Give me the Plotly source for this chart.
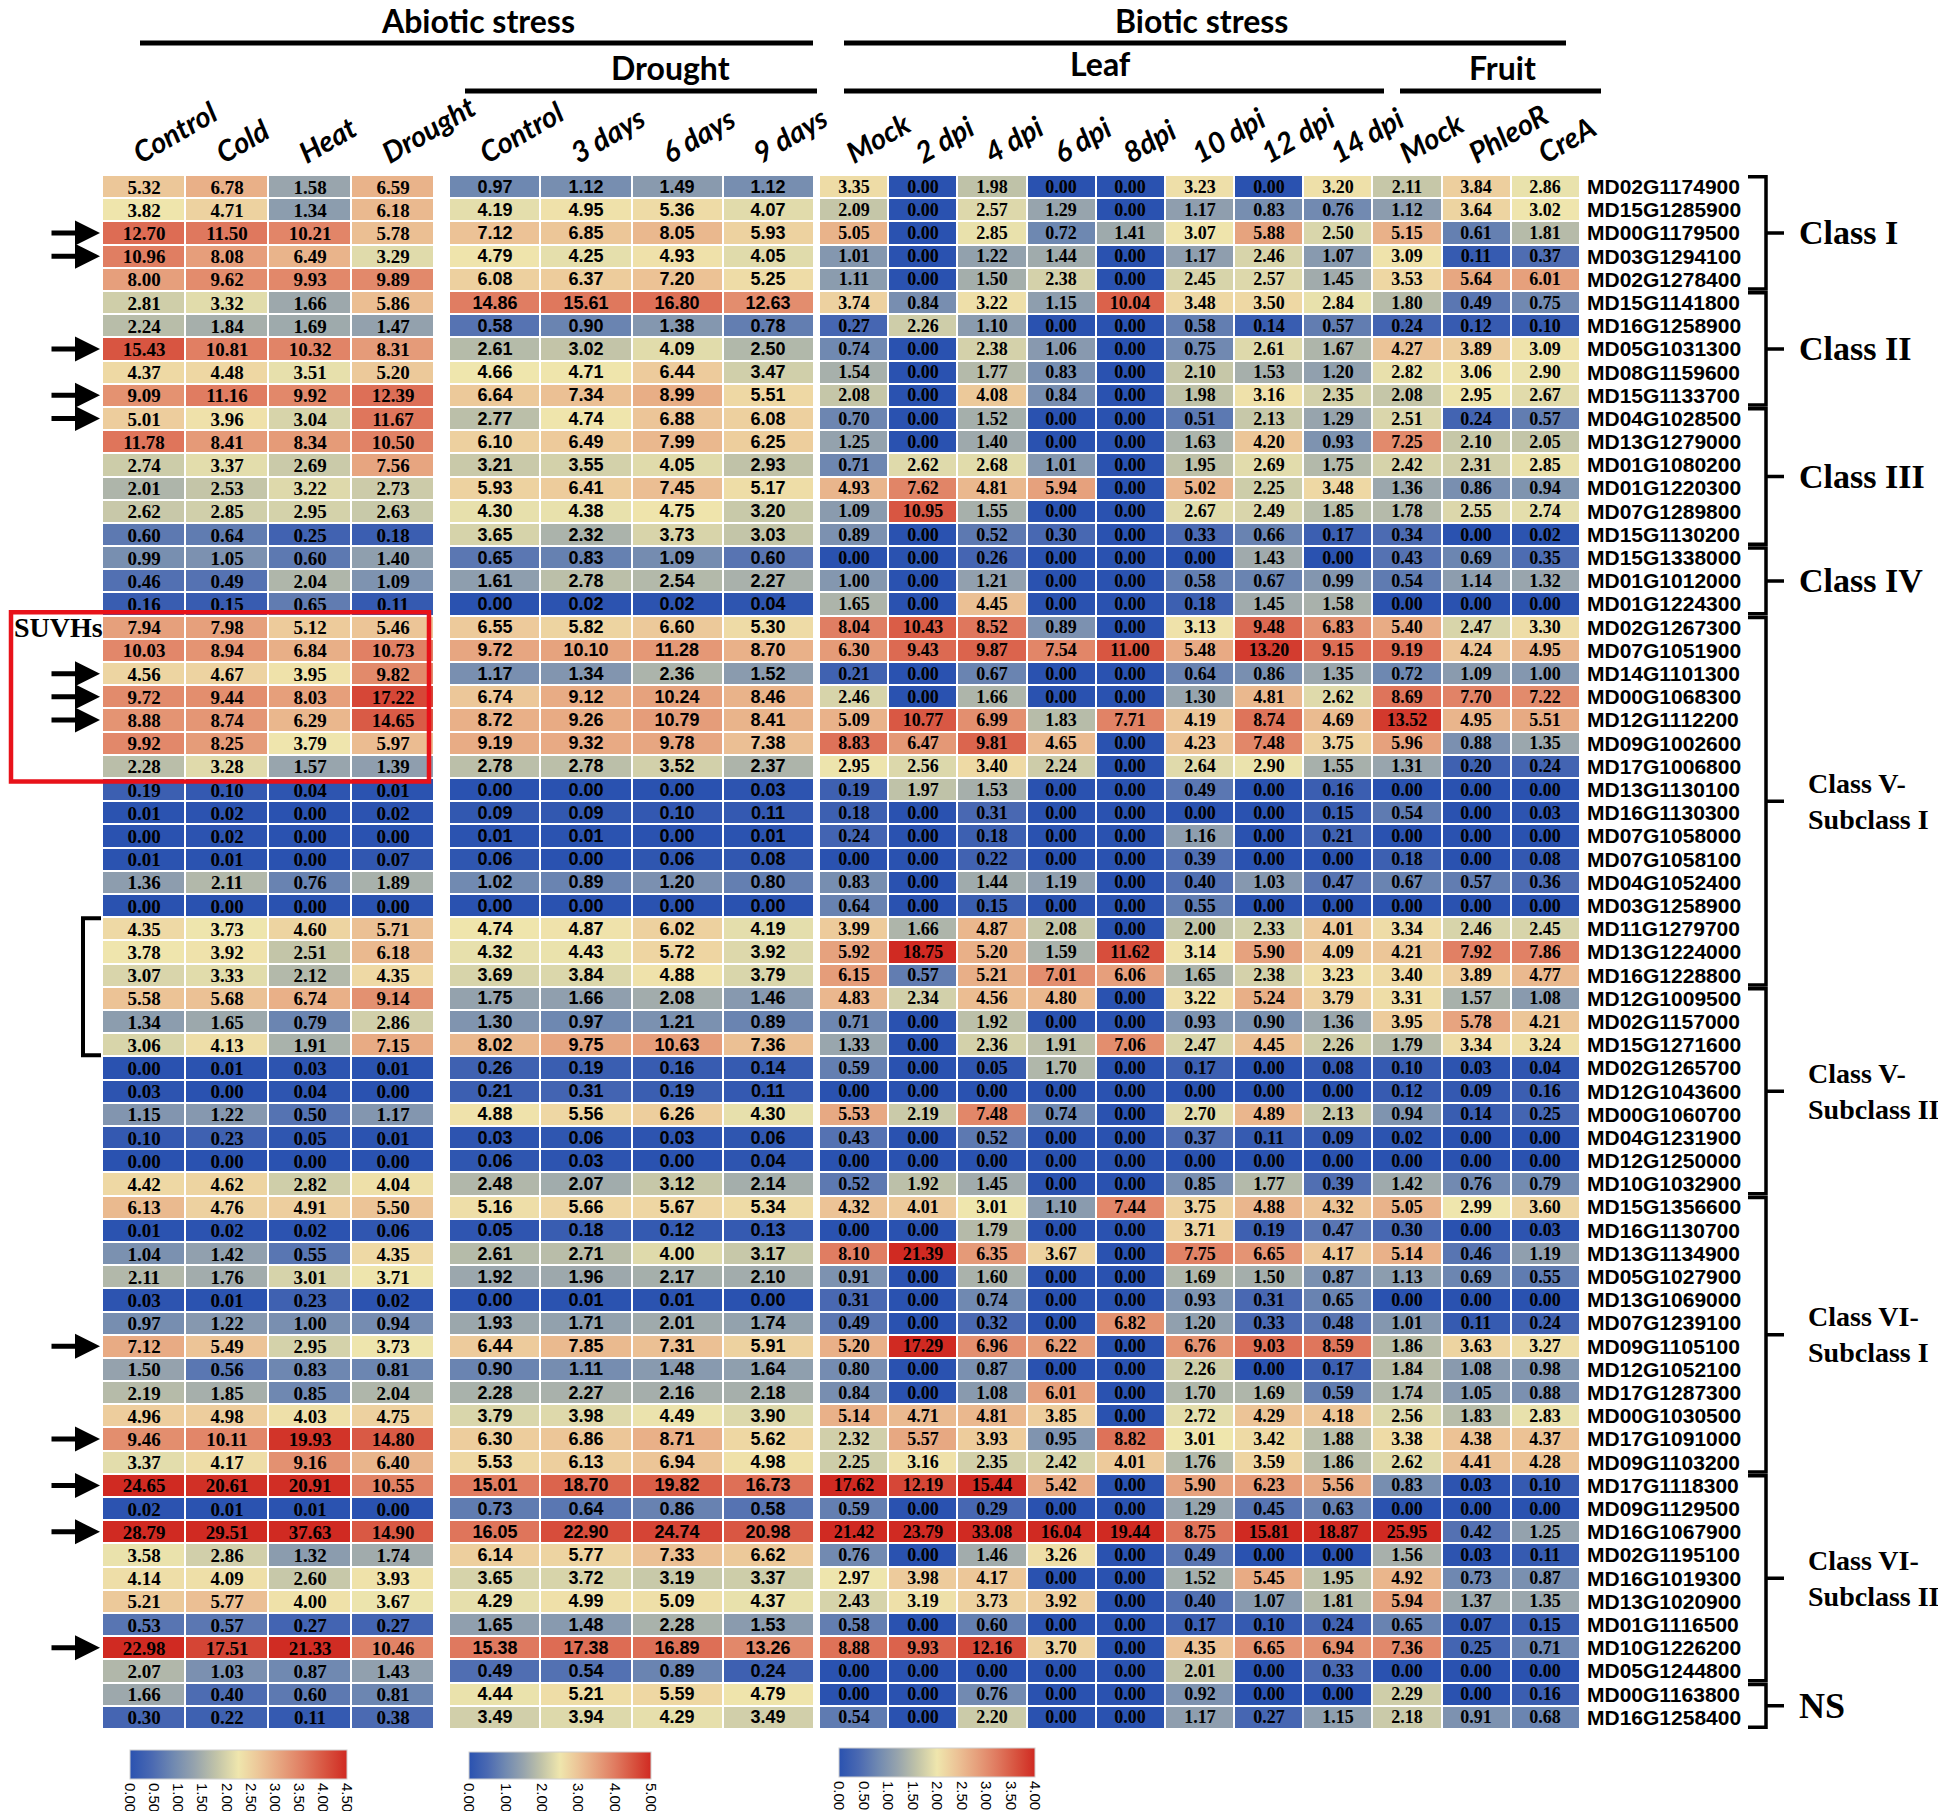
import numpy as np
import plotly.graph_objects as go

genes = ["MD02G1174900", "MD15G1285900", "MD00G1179500", "MD03G1294100", "MD02G1278400",
         "MD15G1141800", "MD16G1258900", "MD05G1031300", "MD08G1159600", "MD15G1133700",
         "MD04G1028500", "MD13G1279000", "MD01G1080200", "MD01G1220300", "MD07G1289800",
         "MD15G1130200", "MD15G1338000", "MD01G1012000", "MD01G1224300", "MD02G1267300",
         "MD07G1051900", "MD14G1101300", "MD00G1068300", "MD12G1112200", "MD09G1002600",
         "MD17G1006800", "MD13G1130100", "MD16G1130300", "MD07G1058000", "MD07G1058100",
         "MD04G1052400", "MD03G1258900", "MD11G1279700", "MD13G1224000", "MD16G1228800",
         "MD12G1009500", "MD02G1157000", "MD15G1271600", "MD02G1265700", "MD12G1043600",
         "MD00G1060700", "MD04G1231900", "MD12G1250000", "MD10G1032900", "MD15G1356600",
         "MD16G1130700", "MD13G1134900", "MD05G1027900", "MD13G1069000", "MD07G1239100",
         "MD09G1105100", "MD12G1052100", "MD17G1287300", "MD00G1030500", "MD17G1091000",
         "MD09G1103200", "MD17G1118300", "MD09G1129500", "MD16G1067900", "MD02G1195100",
         "MD16G1019300", "MD13G1020900", "MD01G1116500", "MD10G1226200", "MD05G1244800",
         "MD00G1163800", "MD16G1258400"]

abiotic_cols = ["Control", "Cold", "Heat", "Drought"]
drought_cols = ["Control", "3 days", "6 days", "9 days"]
biotic_cols = ["Mock", "2 dpi", "4 dpi", "6 dpi", "8dpi", "10 dpi", "12 dpi", "14 dpi",
               "Mock", "PhleoR", "CreA"]

abiotic = [
    [5.32, 6.78, 1.58, 6.59], [3.82, 4.71, 1.34, 6.18], [12.70, 11.50, 10.21, 5.78],
    [10.96, 8.08, 6.49, 3.29], [8.00, 9.62, 9.93, 9.89], [2.81, 3.32, 1.66, 5.86],
    [2.24, 1.84, 1.69, 1.47], [15.43, 10.81, 10.32, 8.31], [4.37, 4.48, 3.51, 5.20],
    [9.09, 11.16, 9.92, 12.39], [5.01, 3.96, 3.04, 11.67], [11.78, 8.41, 8.34, 10.50],
    [2.74, 3.37, 2.69, 7.56], [2.01, 2.53, 3.22, 2.73], [2.62, 2.85, 2.95, 2.63],
    [0.60, 0.64, 0.25, 0.18], [0.99, 1.05, 0.60, 1.40], [0.46, 0.49, 2.04, 1.09],
    [0.16, 0.15, 0.65, 0.11], [7.94, 7.98, 5.12, 5.46], [10.03, 8.94, 6.84, 10.73],
    [4.56, 4.67, 3.95, 9.82], [9.72, 9.44, 8.03, 17.22], [8.88, 8.74, 6.29, 14.65],
    [9.92, 8.25, 3.79, 5.97], [2.28, 3.28, 1.57, 1.39], [0.19, 0.10, 0.04, 0.01],
    [0.01, 0.02, 0.00, 0.02], [0.00, 0.02, 0.00, 0.00], [0.01, 0.01, 0.00, 0.07],
    [1.36, 2.11, 0.76, 1.89], [0.00, 0.00, 0.00, 0.00], [4.35, 3.73, 4.60, 5.71],
    [3.78, 3.92, 2.51, 6.18], [3.07, 3.33, 2.12, 4.35], [5.58, 5.68, 6.74, 9.14],
    [1.34, 1.65, 0.79, 2.86], [3.06, 4.13, 1.91, 7.15], [0.00, 0.01, 0.03, 0.01],
    [0.03, 0.00, 0.04, 0.00], [1.15, 1.22, 0.50, 1.17], [0.10, 0.23, 0.05, 0.01],
    [0.00, 0.00, 0.00, 0.00], [4.42, 4.62, 2.82, 4.04], [6.13, 4.76, 4.91, 5.50],
    [0.01, 0.02, 0.02, 0.06], [1.04, 1.42, 0.55, 4.35], [2.11, 1.76, 3.01, 3.71],
    [0.03, 0.01, 0.23, 0.02], [0.97, 1.22, 1.00, 0.94], [7.12, 5.49, 2.95, 3.73],
    [1.50, 0.56, 0.83, 0.81], [2.19, 1.85, 0.85, 2.04], [4.96, 4.98, 4.03, 4.75],
    [9.46, 10.11, 19.93, 14.80], [3.37, 4.17, 9.16, 6.40], [24.65, 20.61, 20.91, 10.55],
    [0.02, 0.01, 0.01, 0.00], [28.79, 29.51, 37.63, 14.90], [3.58, 2.86, 1.32, 1.74],
    [4.14, 4.09, 2.60, 3.93], [5.21, 5.77, 4.00, 3.67], [0.53, 0.57, 0.27, 0.27],
    [22.98, 17.51, 21.33, 10.46], [2.07, 1.03, 0.87, 1.43], [1.66, 0.40, 0.60, 0.81],
    [0.30, 0.22, 0.11, 0.38]]

drought = [
    [0.97, 1.12, 1.49, 1.12], [4.19, 4.95, 5.36, 4.07], [7.12, 6.85, 8.05, 5.93],
    [4.79, 4.25, 4.93, 4.05], [6.08, 6.37, 7.20, 5.25], [14.86, 15.61, 16.80, 12.63],
    [0.58, 0.90, 1.38, 0.78], [2.61, 3.02, 4.09, 2.50], [4.66, 4.71, 6.44, 3.47],
    [6.64, 7.34, 8.99, 5.51], [2.77, 4.74, 6.88, 6.08], [6.10, 6.49, 7.99, 6.25],
    [3.21, 3.55, 4.05, 2.93], [5.93, 6.41, 7.45, 5.17], [4.30, 4.38, 4.75, 3.20],
    [3.65, 2.32, 3.73, 3.03], [0.65, 0.83, 1.09, 0.60], [1.61, 2.78, 2.54, 2.27],
    [0.00, 0.02, 0.02, 0.04], [6.55, 5.82, 6.60, 5.30], [9.72, 10.10, 11.28, 8.70],
    [1.17, 1.34, 2.36, 1.52], [6.74, 9.12, 10.24, 8.46], [8.72, 9.26, 10.79, 8.41],
    [9.19, 9.32, 9.78, 7.38], [2.78, 2.78, 3.52, 2.37], [0.00, 0.00, 0.00, 0.03],
    [0.09, 0.09, 0.10, 0.11], [0.01, 0.01, 0.00, 0.01], [0.06, 0.00, 0.06, 0.08],
    [1.02, 0.89, 1.20, 0.80], [0.00, 0.00, 0.00, 0.00], [4.74, 4.87, 6.02, 4.19],
    [4.32, 4.43, 5.72, 3.92], [3.69, 3.84, 4.88, 3.79], [1.75, 1.66, 2.08, 1.46],
    [1.30, 0.97, 1.21, 0.89], [8.02, 9.75, 10.63, 7.36], [0.26, 0.19, 0.16, 0.14],
    [0.21, 0.31, 0.19, 0.11], [4.88, 5.56, 6.26, 4.30], [0.03, 0.06, 0.03, 0.06],
    [0.06, 0.03, 0.00, 0.04], [2.48, 2.07, 3.12, 2.14], [5.16, 5.66, 5.67, 5.34],
    [0.05, 0.18, 0.12, 0.13], [2.61, 2.71, 4.00, 3.17], [1.92, 1.96, 2.17, 2.10],
    [0.00, 0.01, 0.01, 0.00], [1.93, 1.71, 2.01, 1.74], [6.44, 7.85, 7.31, 5.91],
    [0.90, 1.11, 1.48, 1.64], [2.28, 2.27, 2.16, 2.18], [3.79, 3.98, 4.49, 3.90],
    [6.30, 6.86, 8.71, 5.62], [5.53, 6.13, 6.94, 4.98], [15.01, 18.70, 19.82, 16.73],
    [0.73, 0.64, 0.86, 0.58], [16.05, 22.90, 24.74, 20.98], [6.14, 5.77, 7.33, 6.62],
    [3.65, 3.72, 3.19, 3.37], [4.29, 4.99, 5.09, 4.37], [1.65, 1.48, 2.28, 1.53],
    [15.38, 17.38, 16.89, 13.26], [0.49, 0.54, 0.89, 0.24], [4.44, 5.21, 5.59, 4.79],
    [3.49, 3.94, 4.29, 3.49]]

biotic = [
    [3.35, 0.00, 1.98, 0.00, 0.00, 3.23, 0.00, 3.20, 2.11, 3.84, 2.86],
    [2.09, 0.00, 2.57, 1.29, 0.00, 1.17, 0.83, 0.76, 1.12, 3.64, 3.02],
    [5.05, 0.00, 2.85, 0.72, 1.41, 3.07, 5.88, 2.50, 5.15, 0.61, 1.81],
    [1.01, 0.00, 1.22, 1.44, 0.00, 1.17, 2.46, 1.07, 3.09, 0.11, 0.37],
    [1.11, 0.00, 1.50, 2.38, 0.00, 2.45, 2.57, 1.45, 3.53, 5.64, 6.01],
    [3.74, 0.84, 3.22, 1.15, 10.04, 3.48, 3.50, 2.84, 1.80, 0.49, 0.75],
    [0.27, 2.26, 1.10, 0.00, 0.00, 0.58, 0.14, 0.57, 0.24, 0.12, 0.10],
    [0.74, 0.00, 2.38, 1.06, 0.00, 0.75, 2.61, 1.67, 4.27, 3.89, 3.09],
    [1.54, 0.00, 1.77, 0.83, 0.00, 2.10, 1.53, 1.20, 2.82, 3.06, 2.90],
    [2.08, 0.00, 4.08, 0.84, 0.00, 1.98, 3.16, 2.35, 2.08, 2.95, 2.67],
    [0.70, 0.00, 1.52, 0.00, 0.00, 0.51, 2.13, 1.29, 2.51, 0.24, 0.57],
    [1.25, 0.00, 1.40, 0.00, 0.00, 1.63, 4.20, 0.93, 7.25, 2.10, 2.05],
    [0.71, 2.62, 2.68, 1.01, 0.00, 1.95, 2.69, 1.75, 2.42, 2.31, 2.85],
    [4.93, 7.62, 4.81, 5.94, 0.00, 5.02, 2.25, 3.48, 1.36, 0.86, 0.94],
    [1.09, 10.95, 1.55, 0.00, 0.00, 2.67, 2.49, 1.85, 1.78, 2.55, 2.74],
    [0.89, 0.00, 0.52, 0.30, 0.00, 0.33, 0.66, 0.17, 0.34, 0.00, 0.02],
    [0.00, 0.00, 0.26, 0.00, 0.00, 0.00, 1.43, 0.00, 0.43, 0.69, 0.35],
    [1.00, 0.00, 1.21, 0.00, 0.00, 0.58, 0.67, 0.99, 0.54, 1.14, 1.32],
    [1.65, 0.00, 4.45, 0.00, 0.00, 0.18, 1.45, 1.58, 0.00, 0.00, 0.00],
    [8.04, 10.43, 8.52, 0.89, 0.00, 3.13, 9.48, 6.83, 5.40, 2.47, 3.30],
    [6.30, 9.43, 9.87, 7.54, 11.00, 5.48, 13.20, 9.15, 9.19, 4.24, 4.95],
    [0.21, 0.00, 0.67, 0.00, 0.00, 0.64, 0.86, 1.35, 0.72, 1.09, 1.00],
    [2.46, 0.00, 1.66, 0.00, 0.00, 1.30, 4.81, 2.62, 8.69, 7.70, 7.22],
    [5.09, 10.77, 6.99, 1.83, 7.71, 4.19, 8.74, 4.69, 13.52, 4.95, 5.51],
    [8.83, 6.47, 9.81, 4.65, 0.00, 4.23, 7.48, 3.75, 5.96, 0.88, 1.35],
    [2.95, 2.56, 3.40, 2.24, 0.00, 2.64, 2.90, 1.55, 1.31, 0.20, 0.24],
    [0.19, 1.97, 1.53, 0.00, 0.00, 0.49, 0.00, 0.16, 0.00, 0.00, 0.00],
    [0.18, 0.00, 0.31, 0.00, 0.00, 0.00, 0.00, 0.15, 0.54, 0.00, 0.03],
    [0.24, 0.00, 0.18, 0.00, 0.00, 1.16, 0.00, 0.21, 0.00, 0.00, 0.00],
    [0.00, 0.00, 0.22, 0.00, 0.00, 0.39, 0.00, 0.00, 0.18, 0.00, 0.08],
    [0.83, 0.00, 1.44, 1.19, 0.00, 0.40, 1.03, 0.47, 0.67, 0.57, 0.36],
    [0.64, 0.00, 0.15, 0.00, 0.00, 0.55, 0.00, 0.00, 0.00, 0.00, 0.00],
    [3.99, 1.66, 4.87, 2.08, 0.00, 2.00, 2.33, 4.01, 3.34, 2.46, 2.45],
    [5.92, 18.75, 5.20, 1.59, 11.62, 3.14, 5.90, 4.09, 4.21, 7.92, 7.86],
    [6.15, 0.57, 5.21, 7.01, 6.06, 1.65, 2.38, 3.23, 3.40, 3.89, 4.77],
    [4.83, 2.34, 4.56, 4.80, 0.00, 3.22, 5.24, 3.79, 3.31, 1.57, 1.08],
    [0.71, 0.00, 1.92, 0.00, 0.00, 0.93, 0.90, 1.36, 3.95, 5.78, 4.21],
    [1.33, 0.00, 2.36, 1.91, 7.06, 2.47, 4.45, 2.26, 1.79, 3.34, 3.24],
    [0.59, 0.00, 0.05, 1.70, 0.00, 0.17, 0.00, 0.08, 0.10, 0.03, 0.04],
    [0.00, 0.00, 0.00, 0.00, 0.00, 0.00, 0.00, 0.00, 0.12, 0.09, 0.16],
    [5.53, 2.19, 7.48, 0.74, 0.00, 2.70, 4.89, 2.13, 0.94, 0.14, 0.25],
    [0.43, 0.00, 0.52, 0.00, 0.00, 0.37, 0.11, 0.09, 0.02, 0.00, 0.00],
    [0.00, 0.00, 0.00, 0.00, 0.00, 0.00, 0.00, 0.00, 0.00, 0.00, 0.00],
    [0.52, 1.92, 1.45, 0.00, 0.00, 0.85, 1.77, 0.39, 1.42, 0.76, 0.79],
    [4.32, 4.01, 3.01, 1.10, 7.44, 3.75, 4.88, 4.32, 5.05, 2.99, 3.60],
    [0.00, 0.00, 1.79, 0.00, 0.00, 3.71, 0.19, 0.47, 0.30, 0.00, 0.03],
    [8.10, 21.39, 6.35, 3.67, 0.00, 7.75, 6.65, 4.17, 5.14, 0.46, 1.19],
    [0.91, 0.00, 1.60, 0.00, 0.00, 1.69, 1.50, 0.87, 1.13, 0.69, 0.55],
    [0.31, 0.00, 0.74, 0.00, 0.00, 0.93, 0.31, 0.65, 0.00, 0.00, 0.00],
    [0.49, 0.00, 0.32, 0.00, 6.82, 1.20, 0.33, 0.48, 1.01, 0.11, 0.24],
    [5.20, 17.29, 6.96, 6.22, 0.00, 6.76, 9.03, 8.59, 1.86, 3.63, 3.27],
    [0.80, 0.00, 0.87, 0.00, 0.00, 2.26, 0.00, 0.17, 1.84, 1.08, 0.98],
    [0.84, 0.00, 1.08, 6.01, 0.00, 1.70, 1.69, 0.59, 1.74, 1.05, 0.88],
    [5.14, 4.71, 4.81, 3.85, 0.00, 2.72, 4.29, 4.18, 2.56, 1.83, 2.83],
    [2.32, 5.57, 3.93, 0.95, 8.82, 3.01, 3.42, 1.88, 3.38, 4.38, 4.37],
    [2.25, 3.16, 2.35, 2.42, 4.01, 1.76, 3.59, 1.86, 2.62, 4.41, 4.28],
    [17.62, 12.19, 15.44, 5.42, 0.00, 5.90, 6.23, 5.56, 0.83, 0.03, 0.10],
    [0.59, 0.00, 0.29, 0.00, 0.00, 1.29, 0.45, 0.63, 0.00, 0.00, 0.00],
    [21.42, 23.79, 33.08, 16.04, 19.44, 8.75, 15.81, 18.87, 25.95, 0.42, 1.25],
    [0.76, 0.00, 1.46, 3.26, 0.00, 0.49, 0.00, 0.00, 1.56, 0.03, 0.11],
    [2.97, 3.98, 4.17, 0.00, 0.00, 1.52, 5.45, 1.95, 4.92, 0.73, 0.87],
    [2.43, 3.19, 3.73, 3.92, 0.00, 0.40, 1.07, 1.81, 5.94, 1.37, 1.35],
    [0.58, 0.00, 0.60, 0.00, 0.00, 0.17, 0.10, 0.24, 0.65, 0.07, 0.15],
    [8.88, 9.93, 12.16, 3.70, 0.00, 4.35, 6.65, 6.94, 7.36, 0.25, 0.71],
    [0.00, 0.00, 0.00, 0.00, 0.00, 2.01, 0.00, 0.33, 0.00, 0.00, 0.00],
    [0.00, 0.00, 0.76, 0.00, 0.00, 0.92, 0.00, 0.00, 2.29, 0.00, 0.16],
    [0.54, 0.00, 2.20, 0.00, 0.00, 1.17, 0.27, 1.15, 2.18, 0.91, 0.68]]

classes = [("Class I", 0, 4, 34), ("Class II", 5, 9, 34), ("Class III", 10, 15, 34),
           ("Class IV", 16, 18, 34), ("Class V-<br>Subclass I", 19, 34, 28),
           ("Class V-<br>Subclass II", 35, 43, 28), ("Class VI-<br>Subclass I", 44, 55, 28),
           ("Class VI-<br>Subclass II", 56, 64, 28), ("NS", 65, 66, 36)]
arrow_rows = [2, 3, 7, 9, 10, 21, 22, 23, 50, 54, 56, 58, 63]
suvh_rows = (19, 25)
bracket_rows = (32, 37)

# page has an 8px body margin, so the figure is a bit smaller than the window
PAD = 8
W, H = 1946 - 2 * PAD, 1819 - 2 * PAD


def fx(p):
    return (p - PAD) / W


def fy(p):
    return 1 - (p - PAD) / H


colorscale = [[0.0, "#2a52b0"], [0.1, "#4a69b2"], [0.2, "#7089b1"], [0.3, "#97a4ad"],
              [0.4, "#c2c4a8"], [0.5, "#efe6ad"], [0.6, "#ecc497"], [0.7, "#e6a17d"],
              [0.8, "#e07c61"], [0.9, "#d85440"], [1.0, "#d02a22"]]

n = len(genes)
rows = list(range(n))
row_top, row_bot = 175, 1729

panels = [
    dict(data=abiotic, cols=abiotic_cols, dom=(102, 434), zmax=4.5, step=0.5, shift=-0.12,
         font=dict(family="Liberation Serif, Times New Roman", size=19, color="black"),
         cb=dict(x0=120, x1=357, y=1740, th=29)),
    dict(data=drought, cols=drought_cols, dom=(449, 814), zmax=5.0, step=1.0, shift=-0.16,
         font=dict(family="Liberation Sans Narrow, Arial Narrow, Liberation Sans", size=18, color="black"),
         cb=dict(x0=459, x1=661, y=1742, th=27)),
    dict(data=biotic, cols=biotic_cols, dom=(819, 1580), zmax=4.0, step=0.5, shift=-0.1,
         font=dict(family="Liberation Serif, Times New Roman", size=18, color="black"),
         cb=dict(x0=829, x1=1045, y=1738, th=29)),
]

fig = go.Figure()
layout = dict(width=W, height=H, margin=dict(l=0, r=0, t=0, b=0, autoexpand=False),
              paper_bgcolor="white", plot_bgcolor="white", showlegend=False)

for i, p in enumerate(panels):
    vals = np.array(p["data"])
    z = np.log2(vals + 1)
    txt = [["%.2f" % v for v in r] for r in vals]
    sfx = "" if i == 0 else str(i + 1)
    ncol = len(p["cols"])
    fig.add_trace(go.Heatmap(
        z=z, x=list(range(ncol)), y=rows, text=txt,
        texttemplate="<b>%{text}</b>", textfont=p["font"],
        coloraxis="coloraxis" + sfx, xaxis="x" + sfx, yaxis="y",
        xgap=2, ygap=2, hoverinfo="skip"))
    ticks = np.arange(0, p["zmax"] + 1e-9, p["step"])
    cb = p["cb"]
    layout["coloraxis" + sfx] = dict(
        colorscale=colorscale, cmin=0, cmax=p["zmax"],
        colorbar=dict(orientation="h", x=fx((cb["x0"] + cb["x1"]) / 2), xanchor="center",
                      y=fy(cb["y"]), yanchor="top", len=cb["x1"] - cb["x0"], lenmode="pixels",
                      thickness=cb["th"], outlinewidth=1, outlinecolor="#d0d0d0",
                      tickvals=list(ticks), ticktext=["%.2f" % t for t in ticks],
                      tickangle=90, ticks="", ticklabelposition="outside",
                      tickfont=dict(family="Liberation Sans, Arial", size=15, color="black")))
    layout["xaxis" + sfx] = dict(
        domain=[fx(p["dom"][0]), fx(p["dom"][1])], anchor="y", side="top",
        range=[-0.5, ncol - 0.5], tickvals=[c + p["shift"] for c in range(ncol)],
        ticktext=p["cols"], tickangle=-30, ticks="", showgrid=False, zeroline=False,
        showline=False, ticklabelstandoff=2,
        tickfont=dict(family="Lato, Open Sans", size=29, color="black",
                      style="italic", weight="bold"))

layout["yaxis"] = dict(domain=[fy(row_bot), fy(row_top)], range=[n - 0.5, -0.5],
                       anchor="x3", side="right", tickvals=rows, ticktext=genes,
                       ticks="", showgrid=False, zeroline=False, showline=False,
                       ticklabelstandoff=6,
                       tickfont=dict(family="Liberation Sans, Arial", size=21, color="black",
                                     weight="bold"))
fig.update_layout(**layout)

shapes = []
annotations = []

# header lines and titles
for x0, x1, y in [(140, 813, 43), (465, 817, 91), (844, 1566, 43), (844, 1384, 91), (1400, 1601, 91)]:
    shapes.append(dict(type="line", xref="paper", yref="paper", x0=fx(x0), x1=fx(x1),
                       y0=fy(y), y1=fy(y), line=dict(color="black", width=5)))
for label, x, y in [("Abiotic stress", 478, 21), ("Drought", 670, 68), ("Biotic stress", 1201, 21),
                    ("Leaf", 1100, 64), ("Fruit", 1502, 68)]:
    annotations.append(dict(text=label, xref="paper", yref="paper", x=fx(x), y=fy(y),
                            xanchor="center", yanchor="middle", showarrow=False,
                            font=dict(family="Lato, Open Sans", size=32, color="black",
                                      weight="bold")))

# class braces
bx, tip, hook = 1766, 1784, 1748
for label, a, b, size in classes:
    top, bot = a - 0.42, b + 0.42
    mid = (a + b) / 2
    path = (f"M {fx(hook)} {top} L {fx(bx)} {top} L {fx(bx)} {mid} L {fx(tip)} {mid} "
            f"M {fx(bx)} {mid} L {fx(bx)} {bot} L {fx(hook)} {bot}")
    shapes.append(dict(type="path", xref="paper", yref="y", path=path,
                       line=dict(color="black", width=3.5)))
    x_lab = 1797 if size > 30 else 1806
    annotations.append(dict(text=f"<b>{label}</b>", xref="paper", yref="y", x=fx(x_lab), y=mid,
                            xanchor="left", yanchor="middle", showarrow=False, align="left",
                            font=dict(family="Liberation Serif, Times New Roman", size=size,
                                      color="black")))

# arrows on the left
for r in arrow_rows:
    annotations.append(dict(text="", xref="paper", yref="y", x=fx(100), y=r, ax=-50, ay=0,
                            showarrow=True, arrowhead=2, arrowsize=1, arrowwidth=5,
                            arrowcolor="black"))

# SUVHs box
shapes.append(dict(type="rect", xref="paper", yref="y", x0=fx(11), x1=fx(429),
                   y0=suvh_rows[0] - 0.65, y1=suvh_rows[1] + 0.65,
                   line=dict(color="#e8121a", width=4.5)))
annotations.append(dict(text="<b>SUVHs</b>", xref="paper", yref="y", x=fx(12), y=suvh_rows[0],
                        xanchor="left", yanchor="middle", showarrow=False,
                        font=dict(family="Liberation Serif, Times New Roman", size=28,
                                  color="black")))

# left bracket
a, b = bracket_rows
shapes.append(dict(type="path", xref="paper", yref="y",
                   path=f"M {fx(101)} {a - 0.45} L {fx(83)} {a - 0.45} L {fx(83)} {b + 0.45} L {fx(101)} {b + 0.45}",
                   line=dict(color="black", width=4)))

fig.update_layout(shapes=shapes, annotations=annotations)
fig.write_html("out.html")
